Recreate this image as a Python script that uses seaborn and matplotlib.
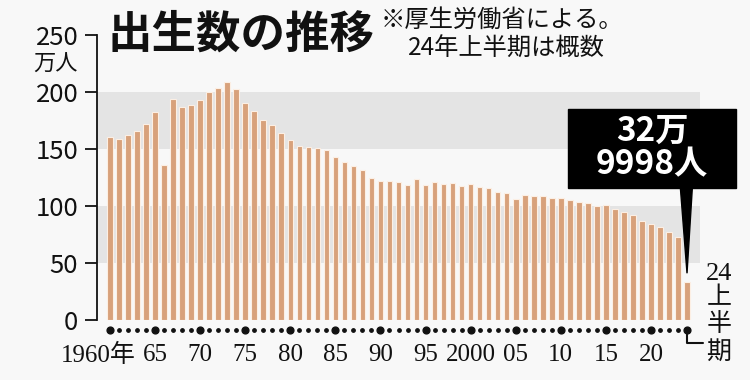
import matplotlib
matplotlib.use('Agg')
import matplotlib.pyplot as plt
import seaborn as sns
import numpy as np
from matplotlib.patches import Rectangle, Polygon

# データ(万人)
years = [str(y) for y in range(1960, 2024)] + ['2024上']
births = [160.6, 158.9, 161.9, 166.0, 171.7, 182.4, 136.1, 193.6, 187.2, 188.9,
          193.4, 200.1, 203.9, 209.2, 203.0, 190.1, 183.3, 175.5, 170.9, 164.3,
          157.7, 152.9, 151.5, 150.9, 149.0, 143.2, 138.3, 134.7, 131.4, 124.7,
          122.2, 122.3, 120.9, 118.8, 123.8, 118.7, 120.7, 119.2, 120.3, 117.8,
          119.1, 117.1, 115.4, 112.4, 111.1, 106.3, 109.3, 109.0, 109.1, 107.0,
          107.1, 105.1, 103.7, 103.0, 100.4, 100.6, 97.7, 94.6, 91.8, 86.5,
          84.1, 81.2, 77.1, 72.7, 33.0]
tick_idx = [0, 5, 10, 15, 20, 25, 30, 35, 40, 45, 50, 55, 60]
tick_labels = ['1960年', '65', '70', '75', '80', '85', '90', '95', '2000', '05', '10', '15', '20']
y_ticks = [0, 50, 100, 150, 200, 250]
callout = '32万\n9998人'

# 見た目
sns.set_theme(style='white')
plt.rcParams['font.family'] = ['Noto Sans CJK JP', 'DejaVu Sans']
bg = '#f8f8f8'
bar_color = '#d8a17b'
band_color = '#e4e4e4'
serif = ['Liberation Serif', 'Noto Sans CJK JP']

fig = plt.figure(figsize=(7.5, 3.8), dpi=100, facecolor=bg)
ax = fig.add_axes([97 / 750, 60 / 380, 603 / 750, 285 / 380])
ax.set_facecolor(bg)

ax.axhspan(50, 100, color=band_color, zorder=0, lw=0)
ax.axhspan(150, 200, color=band_color, zorder=0, lw=0)

sns.barplot(x=years, y=births, color=bar_color, saturation=1, width=0.62,
            edgecolor='#fcefe4', linewidth=0.8, ax=ax, zorder=2)

ax.set_xlim(-1.44, 65.44)
ax.set_ylim(0, 250)
ax.set_xlabel('')
ax.set_ylabel('')

# 軸
for s in ['top', 'right', 'bottom']:
    ax.spines[s].set_visible(False)
ax.spines['left'].set_color('#111111')
ax.spines['left'].set_linewidth(1.3)
ax.set_yticks(y_ticks)
ax.set_yticklabels([str(v) for v in y_ticks])
ax.tick_params(axis='y', direction='out', length=8.5, width=1.3, color='#111111',
               pad=5, labelsize=18.5, labelcolor='#111111', left=True)
ax.tick_params(axis='x', bottom=False, labelbottom=False)

# 年の点
xs = np.arange(len(years))
big = [i for i in xs if i % 5 == 0 or i == len(years) - 1]
small = [i for i in xs if i not in big]
dot_y = -8.8
ax.scatter(small, [dot_y] * len(small), s=6, color='#111111', clip_on=False, zorder=3)
ax.scatter(big, [dot_y] * len(big), s=24, color='#111111', clip_on=False, zorder=3)

for i, lab in zip(tick_idx, tick_labels):
    xpos = -1.35 if lab.endswith('年') else i
    ax.text(xpos, -31, lab, ha='center', va='center', fontsize=18,
            family=serif, color='#111111', clip_on=False)

# 24上半期
last = len(years) - 1
ax.plot([last, last, last + 1.75], [dot_y, -20.5, -20.5], color='#111111',
        lw=1.5, clip_on=False)
fig.text(719 / 750, 1 - 274 / 380, '24', ha='center', va='center', fontsize=19,
         family=serif, color='#111111')
for k, ch in enumerate(['上', '半', '期']):
    fig.text(719 / 750, 1 - (298 + 27 * k) / 380, ch, ha='center', va='center',
             fontsize=18, family=serif, color='#111111')

# 吹き出し
box = Rectangle((568 / 750, 1 - 188 / 380), 168 / 750, 79 / 380,
                transform=fig.transFigure, color='black', zorder=5)
fig.patches.append(box)
tip_x = last
tip_y = births[-1] + 8
top_y = (320 - 188) / 1.135
ax.add_patch(Polygon([[last - 0.75, top_y + 1], [last + 0.6, top_y + 1], [tip_x, tip_y]],
                     closed=True, color='black', clip_on=False, zorder=5))
fig.text(652 / 750, 1 - 148 / 380, callout, ha='center', va='center', fontsize=24,
         fontweight='bold', color='white', linespacing=1.0, zorder=6)

# タイトル・注記
fig.text(108 / 750, 1 - 35 / 380, '出生数の推移', ha='left', va='center',
         fontsize=32, fontweight='bold', color='#111111')
fig.text(381 / 750, 1 - 20 / 380, '※厚生労働省による。', ha='left', va='center',
         fontsize=17.5, color='#111111')
fig.text(408 / 750, 1 - 49 / 380, '24年上半期は概数', ha='left', va='center',
         fontsize=17.5, color='#111111')
fig.text(78 / 750, 1 - 64 / 380, '万人', ha='right', va='center',
         fontsize=16, color='#111111')

fig.savefig('out.png', dpi=100, facecolor=bg)
